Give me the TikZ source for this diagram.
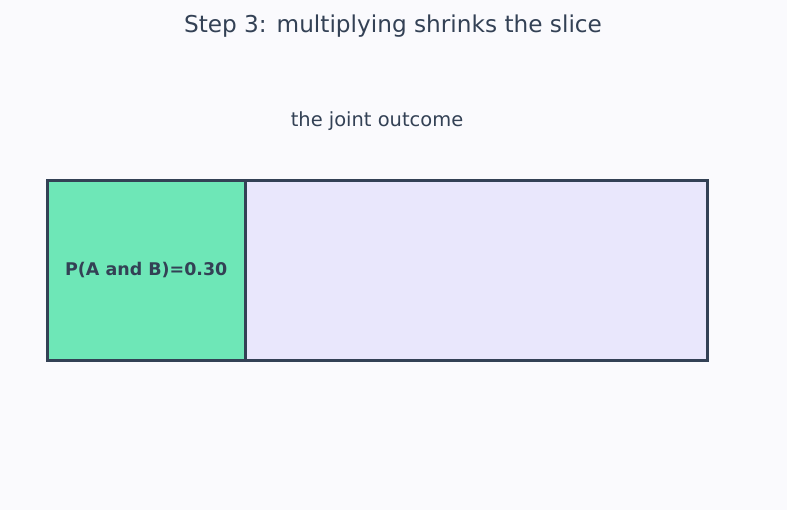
\documentclass[tikz,border=0pt]{standalone}
\usepackage{fontspec}
\setmainfont{DejaVu Sans}
\definecolor{bgpaper}{HTML}{FAFAFD}
\definecolor{ink}{HTML}{334155}
\definecolor{slicegreen}{HTML}{6EE7B7}
\definecolor{restlav}{HTML}{E9E7FC}
\tikzset{
  part/.style={draw=ink,line width=1.9pt,inner sep=0pt,anchor=north west,minimum height=135pt},
}
\begin{document}
\begin{tikzpicture}[x=0.75pt,y=-0.75pt]
\fill[bgpaper] (0,0) rectangle (787,510);
\useasboundingbox (0,0) rectangle (787,510);
% Headings
\node[text=ink,font=\fontsize{17.4}{20}\selectfont] (title) at (393,26) {Step 3: multiplying shrinks the slice};
\node[text=ink,font=\fontsize{14.6}{17}\selectfont] (caption) at (377,121) {the joint outcome};
% The bar: rest of the space, then the joint slice on top
\node[part,fill=restlav,minimum width=346.5pt] (rest) at (244,179) {};
\node[part,fill=slicegreen,minimum width=148.5pt] (slice) at (46,179) {};
\node[text=ink,font=\fontsize{13.1}{15}\selectfont\bfseries] (joint) at (slice.center) {P(A and B)=0.30};
\end{tikzpicture}
\end{document}
